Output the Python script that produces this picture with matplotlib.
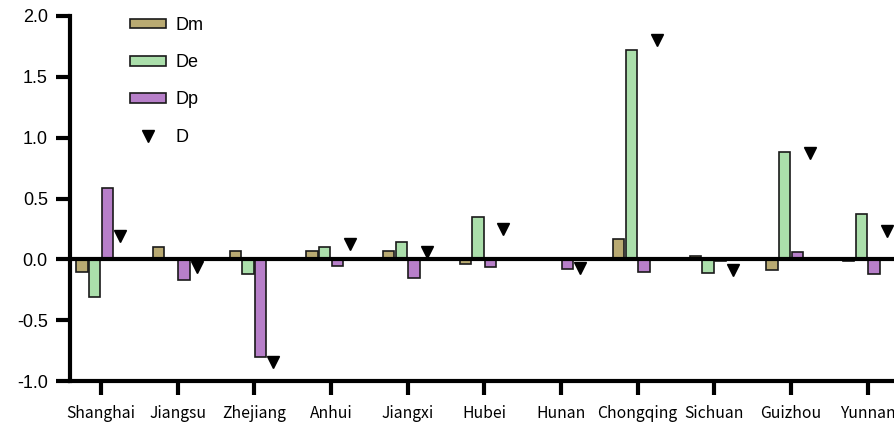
import matplotlib
matplotlib.use("Agg")
import matplotlib.pyplot as plt
import numpy as np
from matplotlib.patches import Patch
from matplotlib.lines import Line2D

provinces = ["Shanghai", "Jiangsu", "Zhejiang", "Anhui", "Jiangxi", "Hubei",
             "Hunan", "Chongqing", "Sichuan", "Guizhou", "Yunnan"]
dm = [-0.10, 0.10, 0.07, 0.07, 0.07, -0.04, 0.00, 0.17, 0.03, -0.09, -0.01]
de = [-0.31, 0.00, -0.12, 0.10, 0.14, 0.35, 0.00, 1.72, -0.11, 0.88, 0.37]
dp = [0.59, -0.17, -0.80, -0.055, -0.155, -0.06, -0.08, -0.10, -0.01, 0.06, -0.12]
d_total = [0.19, -0.065, -0.84, 0.13, 0.063, 0.25, -0.075, 1.80, -0.09, 0.87, 0.23]
y_ticks = [-1.0, -0.5, 0.0, 0.5, 1.0, 1.5, 2.0]

plt.rcParams["axes.unicode_minus"] = False
plt.rcParams["font.family"] = ["Liberation Sans", "DejaVu Sans"]

W, H = 895, 428
fig = plt.figure(figsize=(W / 100, H / 100), dpi=100)

# axis spans past the right edge of the canvas
left_px, right_px = 70, 906
bottom_px, top_px = 381, 16
ax = fig.add_axes([left_px / W, 1 - bottom_px / H,
                   (right_px - left_px) / W, (bottom_px - top_px) / H])

x = np.arange(len(provinces))
step = 0.165
width = 0.15
colors = {"Dm": "#b9aa72", "De": "#abdfab", "Dp": "#b77fc9"}
ax.bar(x - 1.5 * step, dm, width, color=colors["Dm"], edgecolor="#1a1a1a", linewidth=1.2, zorder=2)
ax.bar(x - 0.5 * step, de, width, color=colors["De"], edgecolor="#1a1a1a", linewidth=1.2, zorder=2)
ax.bar(x + 0.5 * step, dp, width, color=colors["Dp"], edgecolor="#1a1a1a", linewidth=1.2, zorder=2)
ax.plot(x + 1.5 * step, d_total, linestyle="none", marker="v", markersize=8,
        color="black", zorder=4)

ax.axhline(0, color="black", linewidth=3, zorder=3)

ax.set_xlim(-0.404, 10.5)
ax.set_ylim(-1.0, 2.0)
ax.set_yticks(y_ticks)
ax.set_yticklabels([f"{v:.1f}" for v in y_ticks], fontsize=13)
ax.set_xticks(x)
ax.set_xticklabels(provinces, fontsize=11.3, family=["Noto Sans CJK SC", "DejaVu Sans"])

for side in ("top", "right"):
    ax.spines[side].set_visible(False)
for side in ("left", "bottom"):
    ax.spines[side].set_linewidth(3)
ax.tick_params(axis="both", which="major", length=10, width=3, color="black")
ax.tick_params(axis="y", pad=6)
ax.tick_params(axis="x", pad=7)

handles = [
    Patch(facecolor=colors["Dm"], edgecolor="#1a1a1a", linewidth=1.2),
    Patch(facecolor=colors["De"], edgecolor="#1a1a1a", linewidth=1.2),
    Patch(facecolor=colors["Dp"], edgecolor="#1a1a1a", linewidth=1.2),
    Line2D([], [], linestyle="none", marker="v", markersize=8, color="black"),
]
fig.legend(handles, ["Dm", "De", "Dp", "D"], loc="upper left",
           bbox_to_anchor=(130 / W, 1 - 17 / H), frameon=False, fontsize=13,
           borderpad=0, borderaxespad=0, handlelength=2.0, handleheight=0.45,
           handletextpad=0.5, labelspacing=1.12)

fig.savefig("out.png", dpi=100)
